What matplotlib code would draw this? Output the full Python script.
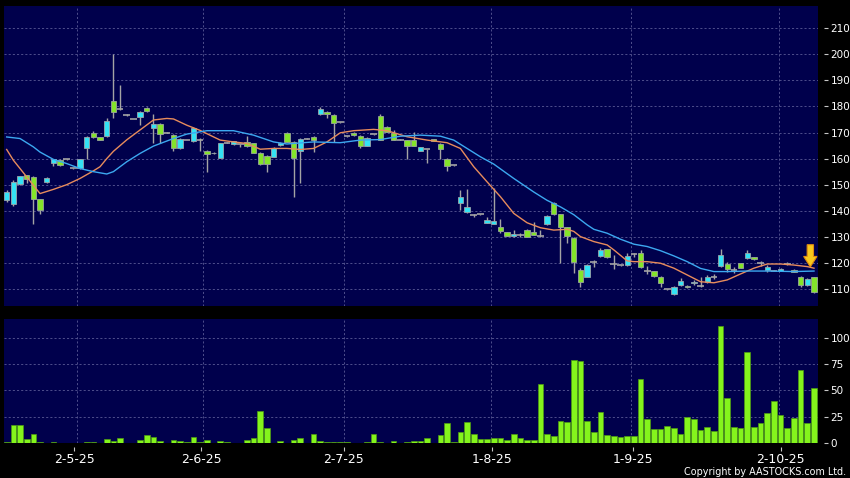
import numpy as np
import matplotlib
matplotlib.use("Agg")
import matplotlib.pyplot as plt

# daily candles, index 0..121 (left to right)
opens = [144.2, 142.7, 150.4, 153.6, 153.0, 144.6, 151.0, 158.3, 159.5, 159.8,
         156.3, 156.3, 164.0, 170.0, 168.2, 168.6, 182.0, 179.2, 176.7, 175.1,
         176.0, 179.3, 171.8, 173.1, 170.0, 169.0, 163.9, 167.1, 166.8, 167.3,
         163.0, 162.0, 160.4, 166.1, 165.5, 165.5, 166.4, 165.8, 162.2, 161.0,
         160.7, 165.2, 170.0, 166.5, 163.0, 167.7, 168.2, 177.0, 178.0, 176.9,
         174.0, 168.5, 170.0, 168.7, 164.9, 169.3, 176.5, 172.2, 170.0, 167.3,
         167.1, 167.3, 163.1, 163.6, 167.4, 165.5, 160.0, 157.5, 143.1, 139.5,
         138.3, 138.6, 135.5, 135.1, 133.9, 131.7, 130.3, 130.7, 132.8, 131.7,
         130.4, 134.8, 143.1, 138.6, 133.6, 129.5, 117.3, 114.7, 120.5, 122.8,
         125.3, 119.6, 119.2, 119.2, 123.3, 124.0, 117.0, 116.9, 114.7, 109.9,
         108.1, 111.7, 111.3, 112.2, 111.2, 112.8, 114.7, 118.8, 119.5, 117.3,
         119.9, 121.8, 122.2, 119.9, 117.3, 117.0, 117.0, 119.6, 117.3, 114.7,
         111.4, 114.5]
highs = [148.0, 151.8, 153.5, 153.8, 153.5, 144.6, 153.0, 160.0, 160.0, 160.0,
         156.5, 160.0, 168.5, 170.5, 168.4, 175.4, 200.0, 188.2, 177.2, 175.3,
         178.3, 179.7, 177.0, 173.5, 170.2, 169.6, 168.0, 167.3, 172.2, 168.0,
         163.2, 162.5, 166.0, 166.3, 166.8, 165.6, 168.6, 166.0, 162.5, 161.2,
         164.5, 166.3, 170.3, 166.6, 168.0, 167.9, 168.5, 179.6, 178.2, 177.0,
         174.2, 168.7, 170.2, 168.9, 168.2, 169.5, 177.0, 172.4, 171.0, 167.5,
         167.3, 170.3, 164.5, 163.8, 167.6, 165.8, 160.2, 157.7, 147.9, 148.2,
         138.9, 138.8, 137.6, 148.9, 136.8, 131.9, 132.8, 131.5, 133.0, 135.7,
         132.6, 138.3, 143.3, 138.8, 133.8, 130.0, 118.0, 119.5, 121.0, 125.6,
         125.5, 123.0, 119.4, 123.7, 123.7, 125.0, 118.8, 117.1, 114.9, 110.2,
         111.2, 114.2, 111.5, 113.4, 114.7, 115.3, 115.7, 125.3, 120.5, 118.6,
         120.1, 125.0, 122.4, 120.9, 119.2, 117.3, 118.0, 120.5, 117.5, 115.0,
         114.2, 114.8]
lows = [143.5, 142.0, 150.0, 150.5, 135.0, 138.9, 150.7, 157.0, 157.3, 159.6,
        156.1, 156.0, 159.8, 168.0, 167.0, 168.4, 175.4, 178.6, 176.3, 175.0,
        172.8, 178.0, 166.0, 166.0, 169.8, 163.0, 163.5, 167.0, 166.4, 163.0,
        155.0, 161.8, 160.2, 165.9, 165.3, 164.5, 164.5, 162.0, 157.7, 155.0,
        160.5, 165.0, 166.3, 145.4, 150.7, 167.5, 162.6, 176.7, 175.4, 166.5,
        173.8, 168.3, 168.8, 163.9, 164.7, 169.1, 167.0, 170.1, 167.0, 167.1,
        160.0, 164.7, 163.0, 158.4, 166.8, 160.0, 155.4, 157.3, 140.3, 139.0,
        137.7, 138.4, 135.3, 135.0, 131.3, 130.3, 130.0, 130.1, 129.8, 130.8,
        129.8, 134.6, 138.4, 119.8, 127.8, 116.0, 110.9, 114.5, 118.6, 122.4,
        122.0, 117.6, 119.0, 119.0, 122.4, 118.0, 115.8, 114.8, 110.6, 109.6,
        107.8, 111.2, 110.4, 111.6, 110.6, 112.4, 114.0, 118.6, 116.7, 116.3,
        118.0, 121.5, 121.2, 118.9, 116.7, 116.8, 116.8, 119.2, 116.5, 110.6,
        111.2, 108.3]
closes = [147.3, 151.0, 153.3, 152.0, 144.6, 140.2, 152.7, 159.8, 157.6, 159.8,
          156.3, 159.8, 168.2, 168.2, 167.1, 174.5, 177.7, 179.2, 176.7, 175.1,
          178.0, 178.2, 173.2, 169.3, 170.0, 163.9, 167.7, 167.1, 171.8, 167.3,
          161.7, 162.3, 165.8, 166.1, 166.7, 165.5, 164.8, 162.2, 157.9, 158.1,
          164.2, 166.1, 166.5, 160.4, 167.7, 167.7, 167.1, 179.2, 177.0, 173.8,
          174.0, 168.5, 169.0, 165.0, 168.0, 169.3, 167.3, 170.3, 167.1, 167.3,
          164.9, 164.9, 164.3, 163.6, 166.9, 163.5, 157.2, 157.5, 145.1, 141.5,
          138.3, 138.6, 136.4, 135.9, 132.3, 130.4, 131.0, 130.7, 130.0, 130.9,
          130.4, 138.1, 138.6, 133.9, 130.4, 120.5, 112.6, 119.2, 120.5, 125.0,
          122.2, 119.6, 119.2, 122.7, 123.3, 118.3, 117.0, 115.0, 112.2, 109.9,
          110.9, 113.0, 110.6, 112.8, 111.2, 114.7, 114.7, 123.1, 117.6, 117.3,
          118.2, 124.0, 121.4, 119.9, 118.6, 117.0, 117.7, 119.6, 116.7, 111.5,
          114.0, 109.0]
volumes = [1.3, 17, 17.6, 3.8, 9, 1, 0, 1, 0, 0,
           0, 0, 1, 1, 0, 3.8, 2, 4.5, 0, 0,
           2.9, 7.4, 5.4, 2.2, 0, 2.6, 2, 0.5, 5.4, 1,
           2.9, 0, 1.6, 1.3, 0, 0, 2.6, 5.1, 30, 14,
           0, 2.2, 0, 2.9, 5.1, 0, 8.7, 2, 1, 0.5,
           0.5, 0.5, 0.3, 0.3, 0.5, 8.3, 1, 0, 2, 0,
           1.3, 2, 2, 5.1, 0, 7.4, 18.6, 1, 10.9, 19.9,
           8.7, 3.5, 3.8, 4.5, 4.8, 2.6, 8.3, 4.5, 3.2, 2.6,
           56.4, 8.3, 6.7, 21, 20, 78.9, 78, 20.8, 10, 29.6,
           7.6, 6.9, 5.4, 6.9, 6.6, 61.2, 23.3, 13.6, 13.6, 15.8,
           14.5, 8.5, 24.9, 23, 12, 15.5, 11.4, 111.7, 43.2, 15.5,
           14.5, 86.4, 14.8, 19.2, 28.4, 40.4, 26.2, 13.9, 23.7, 69.4,
           19.2, 52.7]

# moving averages (index, value)
ma_short_idx = [0, 1, 3, 5, 7, 9, 11, 13, 14, 15, 16, 18, 20, 22, 24, 25, 27, 29,
                32, 34, 36, 38, 40, 42, 44, 46, 48, 50, 52, 55, 57, 60, 63, 66,
                68, 70, 72, 74, 76, 78, 80, 82, 84, 85, 86, 88, 90, 91, 93, 94,
                96, 98, 100, 102, 104, 106, 108, 110, 112, 114, 116, 118, 120, 121]
ma_short = [163.5, 159.4, 153.0, 146.6, 148.2, 150.0, 152.4, 155.3, 156.9, 160.0,
            162.8, 167.2, 171.0, 174.8, 175.4, 175.2, 172.8, 170.8, 167.1, 166.4,
            165.8, 163.6, 163.9, 163.9, 163.5, 163.9, 166.4, 169.9, 170.7, 171.2,
            170.7, 168.4, 167.1, 166.1, 163.9, 156.9, 151.1, 145.4, 139.0, 135.4,
            133.5, 132.6, 132.9, 132.1, 130.1, 128.2, 126.9, 125.0, 120.8, 120.5,
            120.5, 119.9, 118.0, 115.4, 112.8, 112.4, 113.5, 115.8, 118.0, 119.6,
            119.6, 119.2, 118.6, 118.0]
ma_long_idx = [0, 2, 4, 5, 7, 9, 11, 13, 15, 16, 18, 20, 22, 25, 27, 30, 34, 37,
               40, 42, 46, 50, 53, 56, 59, 62, 65, 67, 69, 71, 73, 76, 79, 81,
               83, 85, 87, 88, 90, 92, 94, 96, 98, 100, 102, 104, 106, 108, 111,
               114, 118, 121]
ma_long = [168.3, 167.7, 164.5, 162.5, 159.7, 158.1, 156.2, 155.0, 154.1, 155.0,
           158.8, 162.0, 164.8, 167.7, 169.4, 170.7, 170.7, 169.0, 166.4, 165.6,
           166.4, 166.1, 167.1, 167.3, 168.6, 169.0, 168.6, 167.1, 163.9, 160.7,
           157.9, 152.4, 147.2, 144.0, 141.5, 138.5, 134.6, 132.9, 131.4, 129.1,
           127.2, 126.3, 124.7, 122.7, 120.5, 117.9, 116.7, 116.7, 116.9, 116.9,
           116.7, 116.9]

date_labels = ["2-5-25", "2-6-25", "2-7-25", "1-8-25", "1-9-25", "2-10-25"]
date_ticks = [10.1, 29.2, 50.5, 72.7, 93.9, 116.0]
date_grid = [10.6, 29.5, 50.5, 72.6, 93.6, 115.7]

BG = "#00004c"
GRID = "#5a5a96"
UP = "#34e2f4"
DOWN = "#84e42a"
WICK = "#a4a4a4"


def style_axes(ax):
    ax.set_facecolor(BG)
    for s in ax.spines.values():
        s.set_visible(False)
    ax.spines["right"].set_position(("outward", 4))
    ax.spines["bottom"].set_position(("outward", 3))
    ax.yaxis.tick_right()
    ax.tick_params(axis="y", direction="out", length=3, width=0.8, color="#c8c8c8",
                   labelcolor="white", labelsize=7.5, pad=2)
    ax.grid(True, axis="y", color=GRID, linestyle=(0, (2.5, 2.5)), linewidth=0.6)
    for g in date_grid:
        ax.axvline(g, color=GRID, linestyle=(0, (2.5, 2.5)), linewidth=0.6, zorder=0.5)
    ax.set_axisbelow(True)
    ax.set_xlim(-0.4, 121.6)


fig = plt.figure(figsize=(8.5, 4.78), dpi=100, facecolor="black")
ax = fig.add_axes([4 / 850, 172 / 478, 814 / 850, 300 / 478])
axv = fig.add_axes([4 / 850, 35 / 478, 814 / 850, 124 / 478])
style_axes(ax)
style_axes(axv)

x = np.arange(len(opens))
o = np.array(opens)
c = np.array(closes)
h = np.array(highs)
l = np.array(lows)

# wicks
ax.vlines(x, l, h, color=WICK, linewidth=1, zorder=2)
# bodies
doji = np.abs(c - o) < 0.05
up = (c > o) & ~doji
dn = (c < o) & ~doji
ax.bar(x[up], (c - o)[up], bottom=o[up], width=0.8, color=UP,
       edgecolor="#9aa6aa", linewidth=0.6, zorder=3)
ax.bar(x[dn], (o - c)[dn], bottom=c[dn], width=0.8, color=DOWN,
       edgecolor="#9aa69a", linewidth=0.6, zorder=3)
ax.hlines(o[doji], x[doji] - 0.5, x[doji] + 0.5, color=WICK, linewidth=1.2, zorder=3)

# moving averages
ax.plot(ma_short_idx, ma_short, color="#e88c5c", linewidth=1, zorder=4)
ax.plot(ma_long_idx, ma_long, color="#3ca8f0", linewidth=1, zorder=4)

# marker arrow over the latest session
ax.arrow(120.45, 127.0, 0, -8.5, width=0.95, head_width=2.0, head_length=4.0,
         length_includes_head=True, fc="#f8c81c", ec="#e08a10", linewidth=0.8, zorder=5)

ax.set_ylim(103.5, 218.5)
ax.set_yticks(np.arange(110, 211, 10))
ax.set_xticks([])

# volume
axv.bar(x, volumes, width=0.85, color="#84f41c", edgecolor="#4e9c12", linewidth=0.5, zorder=3)
axv.set_ylim(0, 118)
axv.set_yticks([0, 25, 50, 75, 100])
axv.set_xticks(date_ticks)
axv.set_xticklabels(date_labels)
axv.tick_params(axis="x", direction="out", length=3, width=0.8, color="#c8c8c8",
                labelcolor="white", labelsize=9, pad=1)

fig.text(846 / 850, 1 / 478, "Copyright by AASTOCKS.com Ltd.", ha="right", va="bottom",
         color="white", fontsize=6.9)

fig.savefig("out.png", dpi=100, facecolor=fig.get_facecolor())
